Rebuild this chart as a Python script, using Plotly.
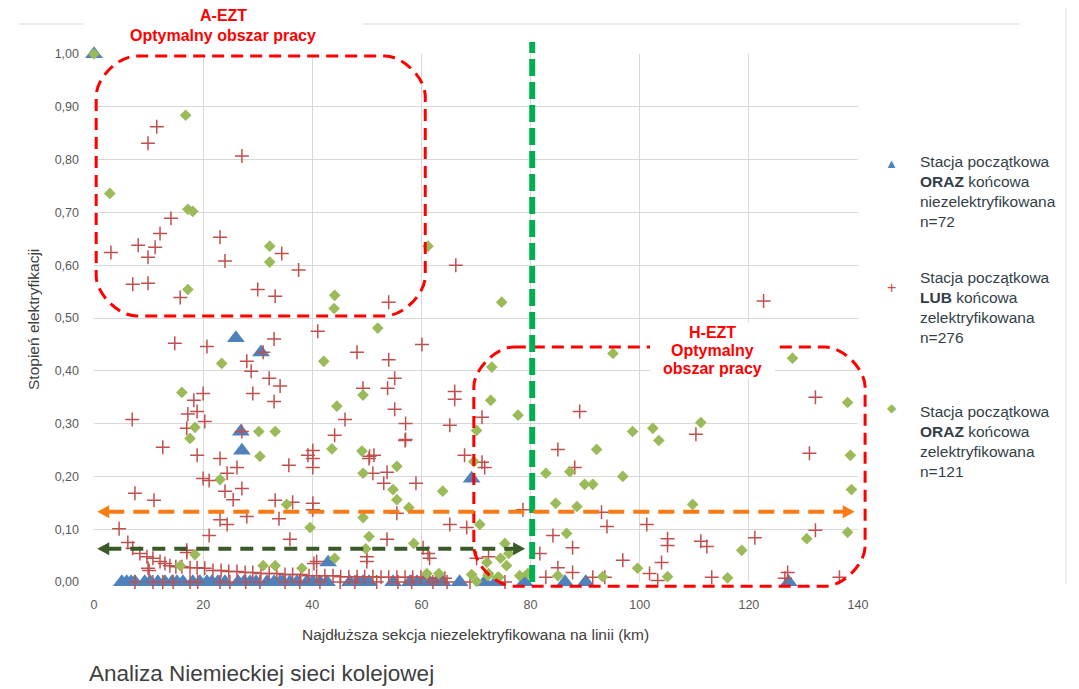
import plotly.graph_objects as go

# ---------------- data (km, stopień elektryfikacji) ----------------
tri_x = [0, 26.0, 30.6, 26.9, 27.1, 42.9, 69.2,
         5.1, 6.0, 6.8, 7.5, 9.3, 10.3, 11.7, 13.0, 14.3, 15.2, 16.3,
         18.1, 19.4, 20.7, 21.6, 22.7, 24.0, 26.4, 27.5, 28.6, 29.7,
         31.7, 33.0, 34.1, 34.6, 35.9, 37.2, 39.0, 40.1, 41.4, 42.7,
         46.9, 48.2, 49.3, 50.4, 54.8, 57.9, 59.2, 60.3, 61.5, 62.8, 63.9,
         67.0, 71.6, 73.6, 78.9, 86.3, 90.1, 127.3]
tri_y = [1.0, 0.462, 0.435, 0.285, 0.249, 0.037, 0.196] + [0.0] * 49

plus_x = [11.5, 9.9, 27.1, 14.1, 12.1, 3.1, 8.1, 11.2, 9.9, 7.1, 9.9, 15.8, 23.1, 24.0,
          30.0, 33.2, 34.4, 37.5, 54.0, 66.3, 122.7,
          14.8, 20.7, 33.0, 31.0, 28.0, 28.8, 32.1, 34.1, 29.1, 33.0, 20.0, 18.3, 18.9,
          17.2, 20.3, 17.0, 7.0, 27.1, 12.6, 41.0, 48.2, 60.1, 54.0, 55.1, 53.8, 49.3,
          55.1, 57.1, 57.1, 46.0, 44.1, 66.1, 66.1, 65.2,
          18.9, 23.1, 24.4, 26.2, 27.1, 24.0, 25.5, 20.0, 21.1, 7.5, 11.0, 28.0, 23.1,
          24.4, 21.1, 33.2, 33.9, 36.4, 35.7, 35.9, 40.1, 39.2, 40.1, 40.1, 40.1, 40.1,
          50.5, 51.3, 50.4, 51.1, 53.7, 53.1, 59.0, 55.5, 53.7, 50.0, 50.0, 61.2, 61.5,
          40.3, 57.0, 67.9, 65.2, 68.3, 71.1, 71.1, 71.6, 60.3, 70.1, 72.3, 78.6,
          85.0, 89.0, 88.1, 93.0, 94.0, 101.3, 105.1, 105.1, 84.1, 87.7, 81.7, 110.3,
          111.2, 112.3, 121.1, 132.2, 131.1, 132.2, 96.9, 104.0, 101.8, 103.3, 85.0,
          87.7, 82.8, 91.4, 93.6, 113.2, 127.1, 126.6, 136.6,
          17.0, 10.1, 40.8, 17.0, 9.9,
          4.6, 6.2, 7.1, 8.4, 9.7, 10.8, 12.1, 13.0, 13.9, 15.0, 16.1, 17.6, 18.9, 20.3,
          21.8, 23.3, 24.7, 26.2, 27.7, 29.1, 30.6, 32.1, 33.5, 35.0, 36.4, 37.9, 39.4,
          40.8, 42.3, 43.8, 45.2, 46.7, 48.2, 49.6, 51.1, 52.6, 54.0, 55.5, 57.0, 58.4,
          59.9, 61.4, 62.8, 64.3,
          7.5, 10.8, 12.6, 14.5, 17.6, 19.0, 23.1, 24.9, 27.8, 30.4, 35.0, 37.7, 41.4,
          45.1, 47.8, 51.8, 55.7, 58.2, 62.1, 64.7, 68.9, 75.3]
plus_y = [0.862, 0.831, 0.807, 0.689, 0.660, 0.624, 0.638, 0.634, 0.615, 0.564, 0.566, 0.539,
          0.653, 0.608, 0.554, 0.541, 0.622, 0.591, 0.530, 0.600, 0.532,
          0.452, 0.446, 0.460, 0.435, 0.418, 0.399, 0.386, 0.371, 0.357, 0.342, 0.357,
          0.344, 0.323, 0.318, 0.304, 0.291, 0.308, 0.285, 0.255, 0.475, 0.435, 0.450,
          0.421, 0.386, 0.367, 0.367, 0.327, 0.300, 0.270, 0.308, 0.278, 0.361, 0.346,
          0.297,
          0.240, 0.234, 0.206, 0.217, 0.177, 0.172, 0.156, 0.196, 0.192, 0.168, 0.155,
          0.124, 0.118, 0.109, 0.088, 0.155, 0.120, 0.151, 0.221, 0.081, 0.249, 0.240,
          0.234, 0.217, 0.149, 0.137,
          0.238, 0.240, 0.234, 0.206, 0.208, 0.187, 0.187, 0.130, 0.081, 0.048, 0.039,
          0.054, 0.045, 0.035, 0.268, 0.240, 0.109, 0.103, 0.312, 0.227, 0.217, 0.065,
          0.045, 0.048, 0.137,
          0.251, 0.323, 0.217, 0.132, 0.105, 0.109, 0.082, 0.069, 0.088, 0.065, 0.054,
          0.280, 0.077, 0.067, 0.084, 0.350, 0.244, 0.098, 0.041, 0.037, 0.016, 0.003,
          0.027, 0.018, 0.009, 0.009, 0.009, 0.009, 0.018, 0.007, 0.009,
          0.056, 0.022, 0.039, 0.060, 0.026,
          0.101, 0.075, 0.064, 0.054, 0.048, 0.045, 0.039, 0.035, 0.031, 0.029, 0.029,
          0.027, 0.027, 0.026, 0.022, 0.022, 0.020, 0.020, 0.018, 0.018, 0.016, 0.016,
          0.016, 0.014, 0.014, 0.014, 0.012, 0.012, 0.012, 0.012, 0.010, 0.010, 0.010,
          0.010, 0.010, 0.009, 0.009, 0.009, 0.009, 0.009, 0.009, 0.007, 0.007, 0.007,
          0.0, 0.0, 0.0, 0.0, 0.0, 0.0, 0.0, 0.0, 0.0, 0.0, 0.0, 0.0, 0.0,
          0.0, 0.0, 0.0, 0.0, 0.0, 0.0, 0.0, 0.0, 0.0]

dia_x = [0, 16.8, 2.9, 17.2, 18.1, 17.2, 32.2, 32.2, 44.1, 44.0, 61.2, 74.7, 52.0, 42.1,
         23.4, 16.1, 72.9, 72.7, 77.7, 18.5, 17.6, 30.2, 33.2, 30.4, 44.5, 43.6, 49.3,
         49.1, 49.3, 49.3, 50.4, 49.8, 44.1, 39.6, 35.3, 38.1, 31.0, 33.2, 23.1, 18.5,
         15.8, 55.5, 54.8, 55.5, 57.7, 63.9, 58.6, 70.1, 69.6, 69.2, 70.1, 72.2, 74.0,
         78.0, 79.5, 61.0, 63.2, 95.1, 128.0, 138.1, 138.6, 138.8, 138.1, 130.6, 111.2,
         98.7, 102.4, 103.5, 92.1, 96.9, 82.8, 87.2, 89.9, 91.4, 84.6, 88.5, 109.7, 70.7,
         86.6, 118.7, 75.3, 76.0, 74.5, 99.6, 105.1, 116.1, 93.2, 85.0, 72.3, 74.2, 75.6,
         72.0]
dia_y = [1.0, 0.884, 0.736, 0.706, 0.702, 0.554, 0.636, 0.606, 0.543, 0.518, 0.636, 0.530,
         0.481, 0.418, 0.414, 0.359, 0.407, 0.344, 0.316, 0.293, 0.272, 0.285, 0.285,
         0.238, 0.333, 0.252, 0.354, 0.248, 0.206, 0.122, 0.086, 0.063, 0.045, 0.103,
         0.147, 0.026, 0.031, 0.031, 0.194, 0.052, 0.031, 0.219, 0.175, 0.156, 0.141,
         0.172, 0.073, 0.287, 0.228, 0.014, 0.001, 0.012, 0.009, 0.012, 0.016, 0.016,
         0.016, 0.433, 0.424, 0.340, 0.240, 0.175, 0.094, 0.082, 0.302, 0.285, 0.291,
         0.268, 0.251, 0.200, 0.206, 0.209, 0.185, 0.185, 0.149, 0.143, 0.147, 0.109,
         0.092, 0.060, 0.073, 0.054, 0.045, 0.026, 0.010, 0.008, 0.010, 0.012, 0.016,
         0.009, 0.031, 0.037]

x_ticks = [0, 20, 40, 60, 80, 100, 120, 140]
y_ticks = [0.0, 0.1, 0.2, 0.3, 0.4, 0.5, 0.6, 0.7, 0.8, 0.9, 1.0]

legend_texts = [
    "Stacja początkowa<br><b>ORAZ</b> końcowa<br>niezelektryfikowana<br>n=72",
    "Stacja początkowa<br><b>LUB</b> końcowa<br>zelektryfikowana<br>n=276",
    "Stacja początkowa<br><b>ORAZ</b> końcowa<br>zelektryfikowana<br>n=121",
]
zone_a_lines = ["A-EZT", "Optymalny obszar pracy"]
zone_h_lines = ["H-EZT", "Optymalny", "obszar pracy"]

# thresholds / zones (data units)
zone_a = (0.4, 0.504, 60.7, 0.996)      # x0, y0, x1, y1
zone_h = (69.6, -0.008, 141.3, 0.445)
limit_km = 80.3
orange_level = 0.133
green_level = 0.063

# ---------------- layout geometry ----------------
OFF = 8                      # page body margin of the browser
W, H = 1079 - OFF, 689 - OFF
ML, MR, MT, MB = 94 - OFF, 1079 - 858, 54 - OFF, 689 - 582
PW, PH = W - ML - MR, H - MT - MB
XMAX = 140.0
FONT = "Liberation Sans, Arial, sans-serif"


def pxx(px):      # screen pixel -> paper
    return (px - 94) / PW


def pxy(py):
    return (582 - py) / PH


def dx(v):
    return v / XMAX


def rrect(x0, y0, x1, y1, r_px=40):
    X0, X1, Y0, Y1 = dx(x0), dx(x1), y0, y1
    rx, ry = r_px / PW, r_px / PH
    k = 0.45
    return (f"M{X0+rx},{Y1} L{X1-rx},{Y1} "
            f"C{X1-rx*(1-k)},{Y1} {X1},{Y1-ry*(1-k)} {X1},{Y1-ry} "
            f"L{X1},{Y0+ry} "
            f"C{X1},{Y0+ry*(1-k)} {X1-rx*(1-k)},{Y0} {X1-rx},{Y0} "
            f"L{X0+rx},{Y0} "
            f"C{X0+rx*(1-k)},{Y0} {X0},{Y0+ry*(1-k)} {X0},{Y0+ry} "
            f"L{X0},{Y1-ry} "
            f"C{X0},{Y1-ry*(1-k)} {X0+rx*(1-k)},{Y1} {X0+rx},{Y1} Z")


def head(tip_x, y, direction, length_px=12, half_px=6.5):
    tx = dx(tip_x)
    bx = tx - direction * length_px / PW
    hy = half_px / PH
    return f"M{tx},{y} L{bx},{y+hy} L{bx},{y-hy} Z"


fig = go.Figure()
fig.add_trace(go.Scatter(x=tri_x, y=tri_y, mode="markers", cliponaxis=False,
                         name="Stacja początkowa ORAZ końcowa niezelektryfikowana",
                         marker=dict(symbol="triangle-up", size=15.5, color="#4F81BD")))
fig.add_trace(go.Scatter(x=plus_x, y=plus_y, mode="markers", cliponaxis=False,
                         name="Stacja początkowa LUB końcowa zelektryfikowana",
                         marker=dict(symbol="cross-thin", size=10,
                                     line=dict(color="#C0504D", width=1.5))))
fig.add_trace(go.Scatter(x=dia_x, y=dia_y, mode="markers", cliponaxis=False,
                         name="Stacja początkowa ORAZ końcowa zelektryfikowana",
                         marker=dict(symbol="diamond", size=9, color="#9BBB59")))

shapes = []
# slide decorations
shapes.append(dict(type="line", xref="paper", yref="paper", x0=pxx(19), x1=pxx(1020),
                   y0=pxy(24), y1=pxy(24), line=dict(color="#D9D9D9", width=1.2), layer="below"))
shapes.append(dict(type="line", xref="paper", yref="paper", x0=pxx(1066), x1=pxx(1066),
                   y0=pxy(8), y1=pxy(584), line=dict(color="#E3E3E3", width=1), layer="below"))
# zones
for z in (zone_a, zone_h):
    shapes.append(dict(type="path", xref="paper", yref="paper", path=rrect(*z),
                       line=dict(color="#FF0000", width=3, dash="12px,7px")))
# limit line 80 km
shapes.append(dict(type="line", xref="paper", yref="paper", x0=dx(limit_km), x1=dx(limit_km),
                   y0=0, y1=pxy(42), line=dict(color="#00B050", width=6, dash="17px,6px")))
# orange double arrow
o_l, o_r = 0.6, 139.4
shapes.append(dict(type="line", xref="paper", yref="paper",
                   x0=dx(o_l) + 11 / PW, x1=dx(o_r) - 11 / PW, y0=orange_level, y1=orange_level,
                   line=dict(color="#F97B16", width=4, dash="16px,9px")))
shapes.append(dict(type="path", xref="paper", yref="paper", path=head(o_l, orange_level, -1),
                   fillcolor="#F97B16", line=dict(width=0)))
shapes.append(dict(type="path", xref="paper", yref="paper", path=head(o_r, orange_level, 1),
                   fillcolor="#F97B16", line=dict(width=0)))
# dark green double arrow
g_l, g_r = 0.6, 79.0
shapes.append(dict(type="line", xref="paper", yref="paper",
                   x0=dx(g_l) + 11 / PW, x1=dx(g_r) - 11 / PW, y0=green_level, y1=green_level,
                   line=dict(color="#3A5A28", width=4, dash="13px,9px")))
shapes.append(dict(type="path", xref="paper", yref="paper", path=head(g_l, green_level, -1),
                   fillcolor="#3A5A28", line=dict(width=0)))
shapes.append(dict(type="path", xref="paper", yref="paper", path=head(g_r, green_level, 1),
                   fillcolor="#3A5A28", line=dict(width=0)))
# white label boxes
shapes.append(dict(type="rect", xref="paper", yref="paper", x0=pxx(83), x1=pxx(363),
                   y0=pxy(46), y1=pxy(6), fillcolor="white", line=dict(width=0)))
shapes.append(dict(type="rect", xref="paper", yref="paper", x0=pxx(650), x1=pxx(775),
                   y0=pxy(378), y1=pxy(322), fillcolor="white", line=dict(width=0)))

ann = []
for txt, yy in zip(zone_a_lines, [16, 35]):
    ann.append(dict(xref="paper", yref="paper", x=pxx(223), y=pxy(yy), xanchor="center",
                    yanchor="middle", showarrow=False, text=f"<b>{txt}</b>",
                    font=dict(family=FONT, size=16, color="#FF0000")))
for txt, yy in zip(zone_h_lines, [332, 350, 368]):
    ann.append(dict(xref="paper", yref="paper", x=pxx(712), y=pxy(yy), xanchor="center",
                    yanchor="middle", showarrow=False, text=f"<b>{txt}</b>",
                    font=dict(family=FONT, size=16, color="#FF0000")))
# axis titles
ann.append(dict(xref="paper", yref="paper", x=pxx(33), y=pxy(320), textangle=-90,
                showarrow=False, xanchor="center", yanchor="middle",
                text="Stopień elektryfikacji", font=dict(family=FONT, size=15.5, color="#404040")))
ann.append(dict(xref="paper", yref="paper", x=pxx(475), y=pxy(634), showarrow=False,
                xanchor="center", yanchor="middle",
                text="Najdłuższa sekcja niezelektryfikowana na linii (km)",
                font=dict(family=FONT, size=15.5, color="#404040")))
ann.append(dict(xref="paper", yref="paper", x=pxx(87), y=pxy(673), showarrow=False,
                xanchor="left", yanchor="middle",
                text="Analiza Niemieckiej sieci kolejowej",
                font=dict(family=FONT, size=22.5, color="#404040")))
# legend (manual)
leg_tops = [151, 267, 401]
leg_syms = [("▲", "#4F81BD", 13, 163), ("+", "#C0504D", 16, 287), ("◆", "#9BBB59", 12, 408)]
for t, top, (s, c, fs, sy) in zip(legend_texts, leg_tops, leg_syms):
    ann.append(dict(xref="paper", yref="paper", x=pxx(918), y=pxy(top), xanchor="left",
                    yanchor="top", align="left", showarrow=False, text=t,
                    font=dict(family=FONT, size=15.5, color="#333F48")))
    ann.append(dict(xref="paper", yref="paper", x=pxx(892), y=pxy(sy), xanchor="center",
                    yanchor="middle", showarrow=False, text=s,
                    font=dict(family=FONT, size=fs, color=c)))

fig.update_layout(
    width=W, height=H, margin=dict(l=ML, r=MR, t=MT, b=MB),
    paper_bgcolor="white", plot_bgcolor="white", showlegend=False,
    separators=", ", font=dict(family=FONT, color="#595959"),
    shapes=shapes, annotations=ann,
)
fig.update_xaxes(range=[0, XMAX], tickvals=x_ticks, showgrid=True, gridcolor="#D9D9D9",
                 gridwidth=1, zeroline=False, showline=False, ticks="",
                 ticklabelstandoff=13, tickfont=dict(family=FONT, size=12.5, color="#595959"))
fig.update_yaxes(range=[0, 1], tickvals=y_ticks, tickformat=".2f", showgrid=True,
                 gridcolor="#D9D9D9", gridwidth=1, zeroline=False, showline=False, ticks="",
                 ticklabelstandoff=14, tickfont=dict(family=FONT, size=12.5, color="#595959"))

fig.write_html("out.html")
